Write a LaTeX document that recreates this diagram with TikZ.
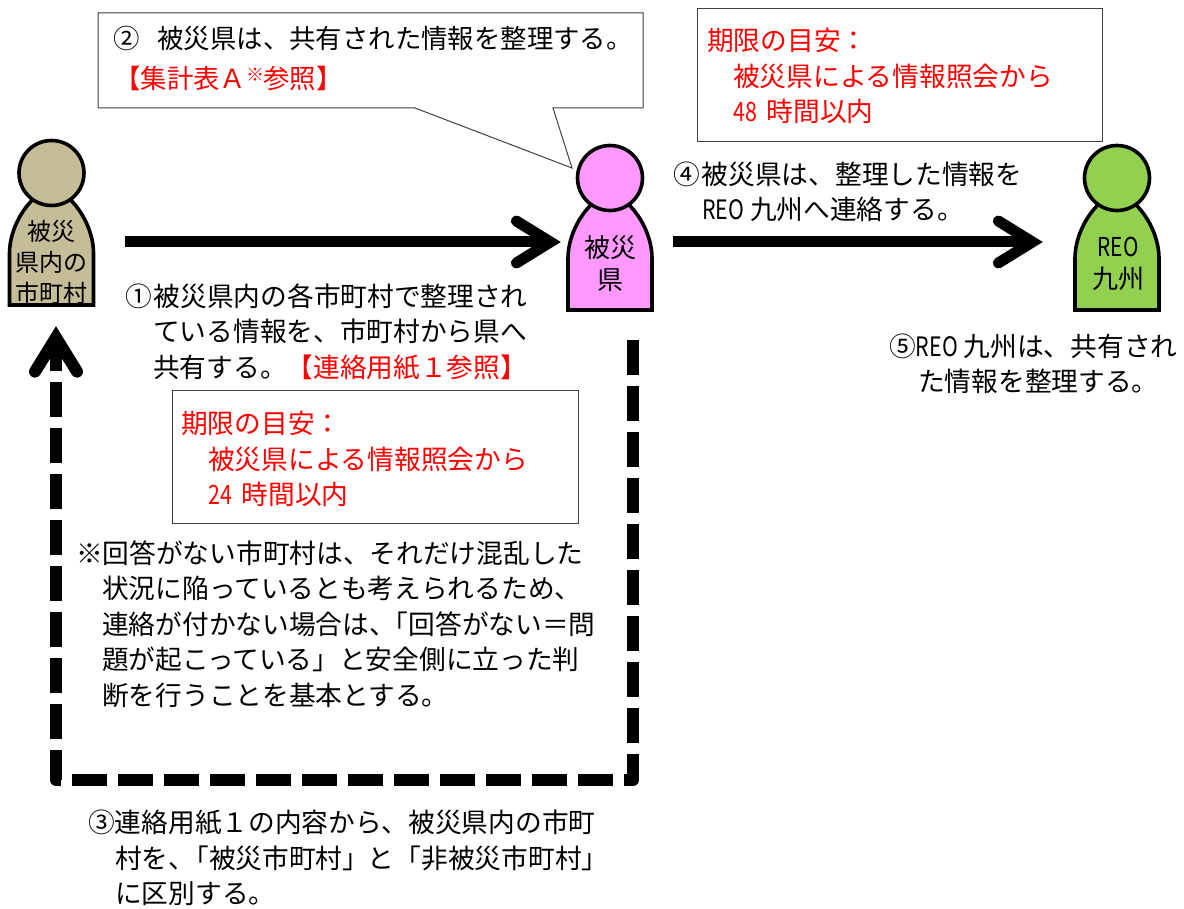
\documentclass[tikz,border=0pt]{standalone}
\usepackage{fontspec}
\usetikzlibrary{arrows.meta}
\newfontfamily\jpfont{Noto Sans CJK JP}
\definecolor{tanp}{HTML}{C4BD97}
\definecolor{pinkp}{HTML}{FF99FF}
\definecolor{greenp}{HTML}{92D050}
\definecolor{boxline}{HTML}{404040}
\newcommand{\personfig}[3]{%
  \begin{scope}[shift={(#1,#2)}]
    \draw[personline,fill=#3] (-42,132) -- (-42,80) .. controls (-42,55) and (-25,24) .. (0,14) .. controls (25,24) and (42,55) .. (42,80) -- (42,132) -- cycle;
    \draw[personline,fill=#3] (0,0) circle (32.5);
  \end{scope}}
\newcommand{\hw}[1]{\scalebox{.8}[1]{#1}}
\tikzset{
  x=1pt,y=-1pt,
  personline/.style={line width=3.6pt,draw=black,line join=miter},
  txt/.style={anchor=west,inner sep=0pt,align=left,font=\jpfont\fontsize{26.7}{35.6}\selectfont},
  bodytxt/.style={inner sep=0pt,align=center},
  bodyslot/.style={inner sep=0pt,minimum width=86pt,minimum height=110pt},
  notebox/.style={draw=boxline,line width=1pt,fill=white},
  headtip/.style={-{Straight Barb[length=34pt,width=42pt,line cap=round,line join=miter]}},
  bigarrow/.style={line width=11pt,draw=black,headtip},
  dashline/.style={line width=12pt,draw=black,dash pattern=on 35pt off 11pt,line join=round,headtip}
}
\begin{document}
\begin{tikzpicture}
\useasboundingbox (0,0) rectangle (1184,909);
% callouts and boxes
\draw[notebox] (98,13) -- (643,13) -- (643,108) -- (553,108) -- (572,168) -- (415,108) -- (98,108) -- cycle;
\node[notebox,minimum width=405pt,minimum height=133pt,anchor=north west] (boxa) at (697,8) {};
\node[notebox,minimum width=406pt,minimum height=133pt,anchor=north west] (boxb) at (172,390) {};
% persons
\personfig{51.5}{173}{tanp}
\personfig{610}{178}{pinkp}
\personfig{1117}{178}{greenp}
\node[bodyslot] (p1) at (51.5,251) {};
\node[bodyslot] (p2) at (610,255) {};
\node[bodyslot] (p3) at (1117,255) {};
\node[bodytxt,font=\jpfont\fontsize{24}{31}\selectfont] (t1) at (51.5,262) {被災\\県内の\\市町村};
\node[bodytxt,font=\jpfont\fontsize{26}{32}\selectfont] (t2) at (610,264) {被災\\県};
\node[bodytxt,font=\jpfont\fontsize{26}{32}\selectfont] (t3) at (1118,264) {\hw{REO}\\九州};
% connectors
\coordinate (d2) at (633,780);
\coordinate (d3) at (56,780);
\draw[bigarrow] ([xshift=30pt,yshift=9pt]p1.east) -- ([xshift=-6pt,yshift=13pt]p2.west);
\draw[bigarrow] ([xshift=20pt,yshift=13pt]p2.east) -- ([xshift=-31pt,yshift=13pt]p3.west);
\draw[dashline] ([xshift=23pt,yshift=-30pt]p2.south) -- (d2) -- (d3) -- ([xshift=4.5pt,yshift=-20pt]p1.south);
% texts
\node[txt,font=\jpfont\fontsize{26.4}{40}\selectfont] (c2) at (113,58) {②\hspace*{18pt}被災県は、共有された情報を整理する。\\\hspace*{1pt}\textcolor{red}{【集計表Ａ\raisebox{7pt}{\fontsize{18}{18}\selectfont ※}\hspace*{-1pt}参照】}};
\node[txt,text=red] (ta) at (707,76) {期限の目安：\\\hspace*{26pt}被災県による情報照会から\\\hspace*{26pt}\hw{48}\hspace*{4pt} 時間以内};
\node[txt,text=red] (tb) at (181,459) {期限の目安：\\\hspace*{27pt}被災県による情報照会から\\\hspace*{27pt}\hw{24}\hspace*{4pt} 時間以内};
\node[txt] (c1) at (125,332) {①\hspace*{2pt}被災県内の各市町村で整理され\\\hspace*{28pt}ている情報を、市町村から県へ\\\hspace*{28pt}共有する。\textcolor{red}{【連絡用紙１参照】}};
\node[txt] (c4) at (673,192) {④\hspace*{2pt}被災県は、整理した情報を\\\hspace*{29pt}\hw{REO} 九州へ連絡する。};
\node[txt] (c5) at (889,364) {⑤\hw{REO} 九州は、共有され\\\hspace*{29pt}た情報を整理する。};
\node[txt] (note) at (76,624) {※回答がない市町村は、それだけ混乱した\\\hspace*{26pt}状況に陥っているとも考えられるため、\\\hspace*{26pt}連絡が付かない場合は、\hspace*{-14pt}「回答がない＝問\\\hspace*{26pt}題が起こっている」と安全側に立った判\\\hspace*{26pt}断を行うことを基本とする。};
\node[txt] (c3) at (88,858) {③連絡用紙１の内容から、被災県内の市町\\\hspace*{27pt}村を、\hspace*{-13pt}「被災市町村」\hspace*{-2pt}と\hspace*{1pt}「非被災市町村」\\\hspace*{27pt}に区別する。};
\end{tikzpicture}
\end{document}
